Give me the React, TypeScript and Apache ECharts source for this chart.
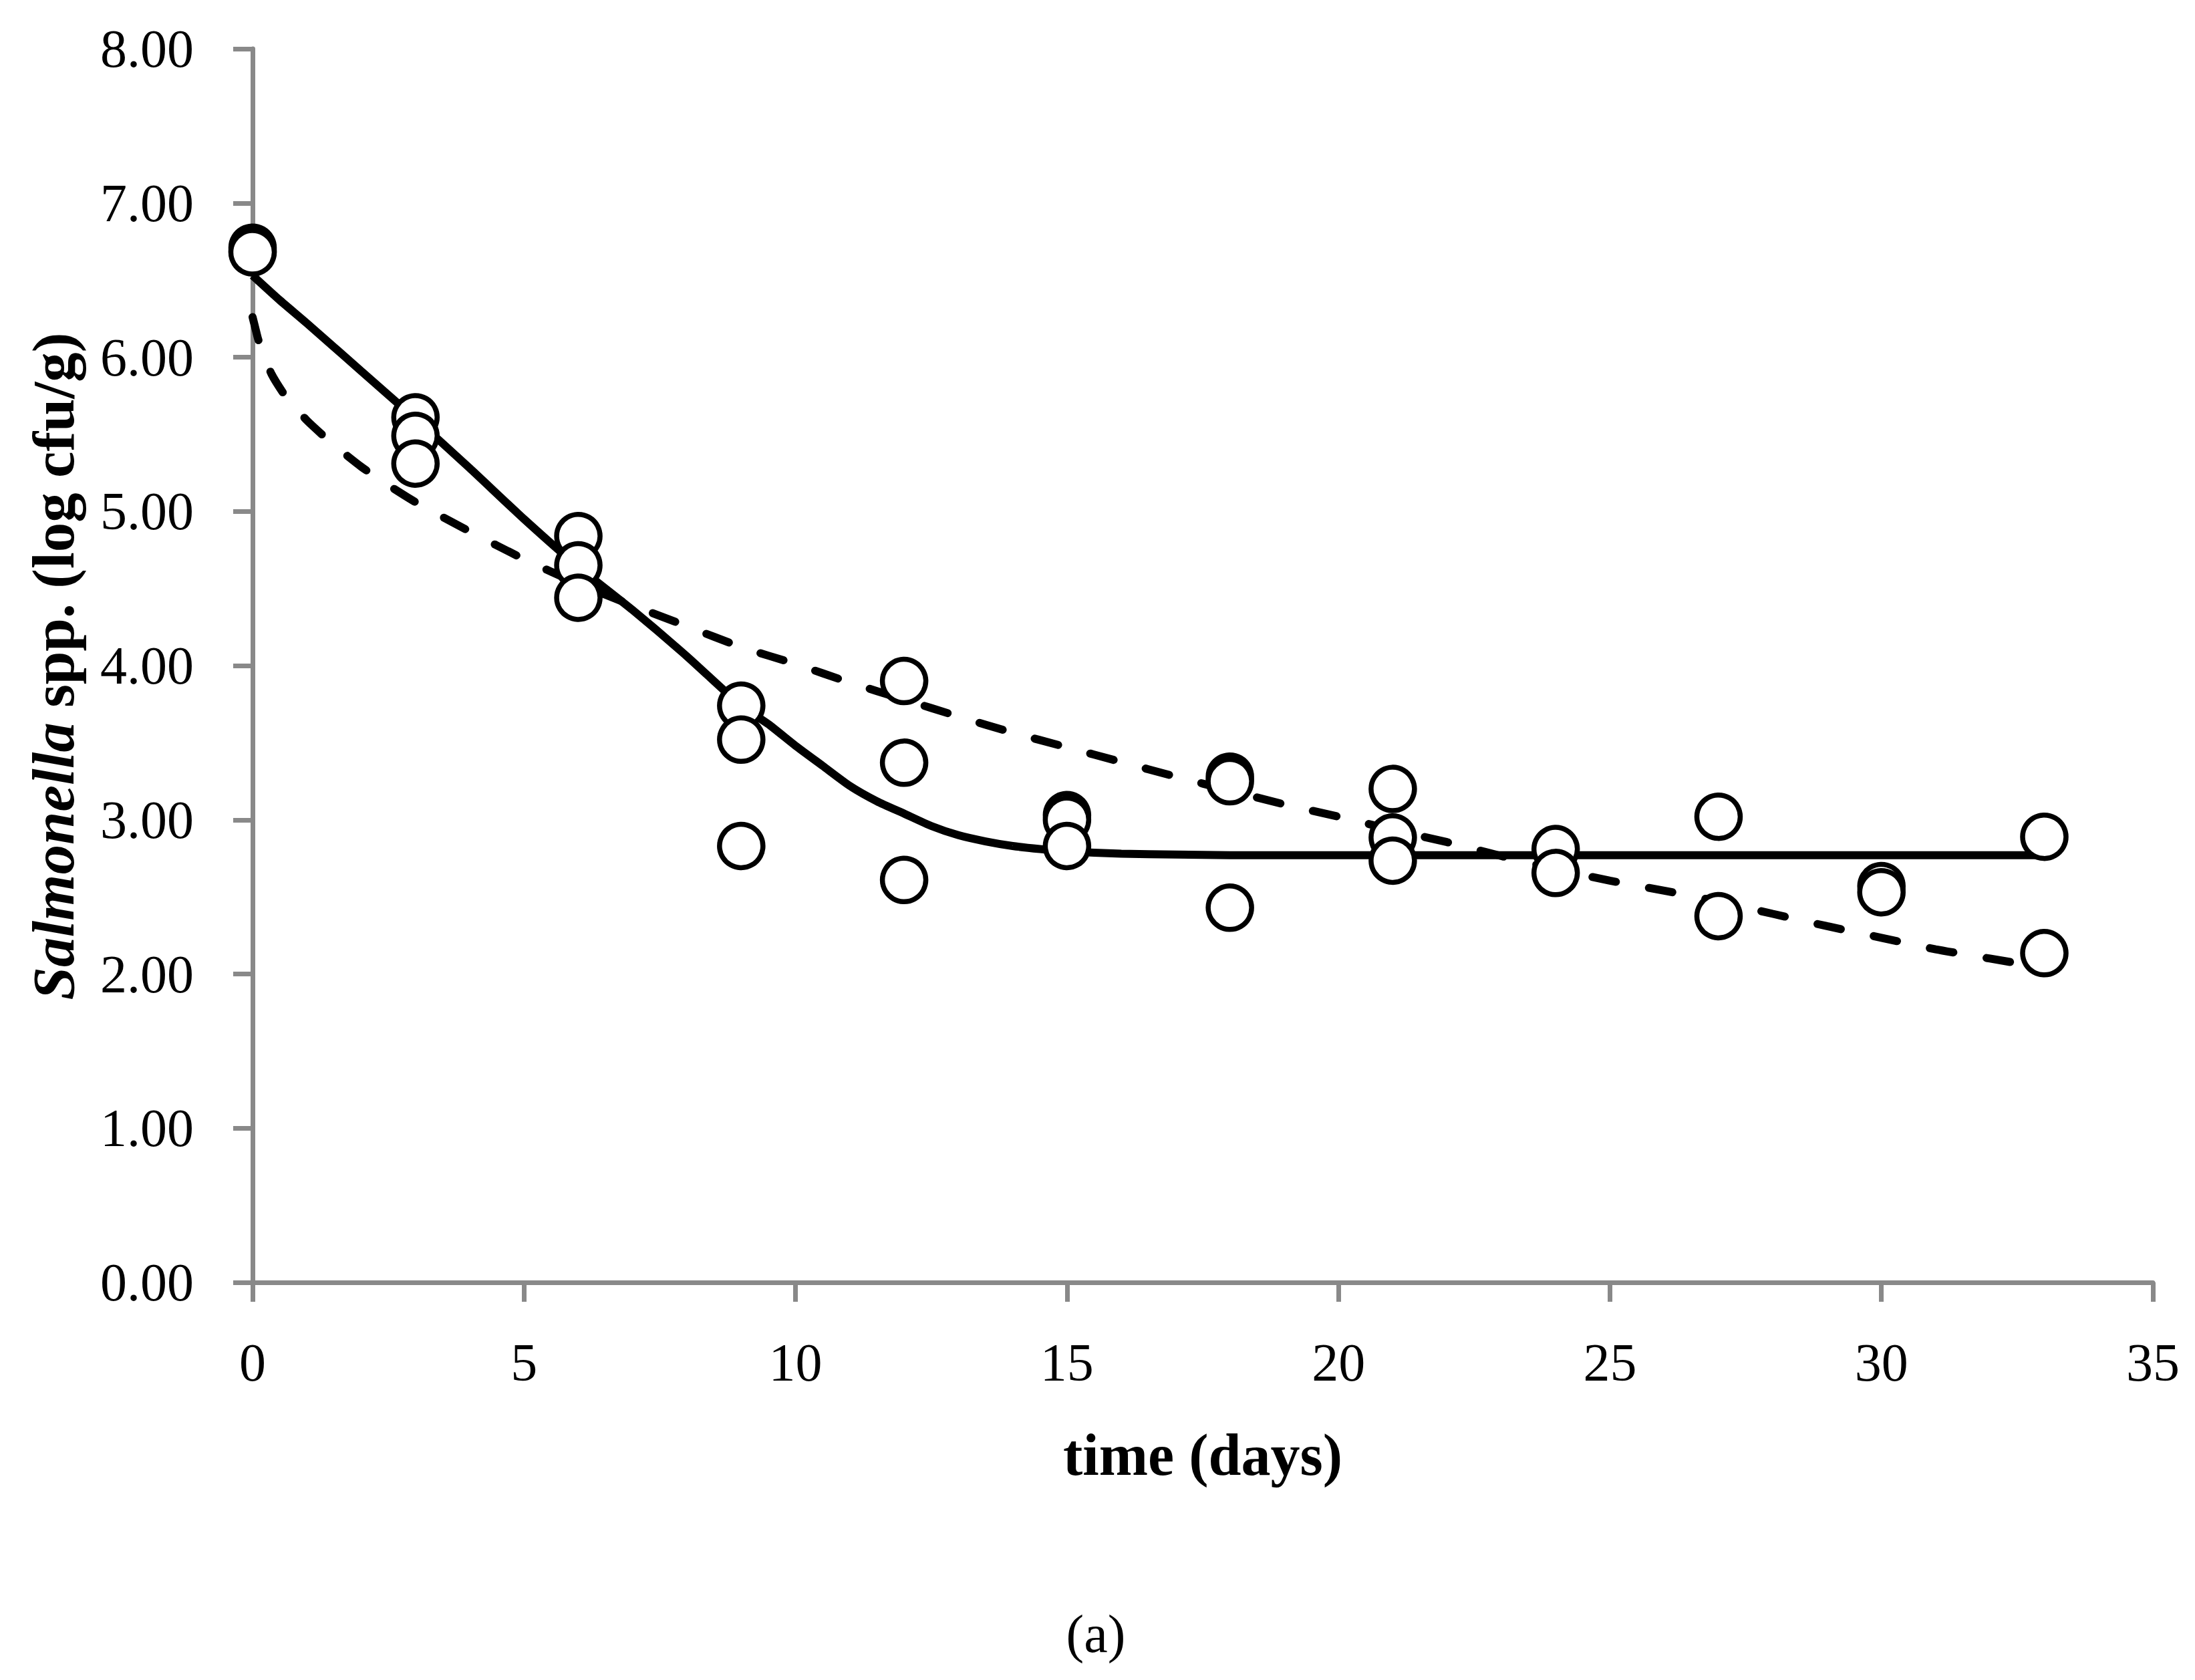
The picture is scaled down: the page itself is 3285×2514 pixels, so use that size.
import React, { useEffect, useRef } from "react";
import * as echarts from "echarts";

// Observed data (time in days, log cfu/g)
const obsTime = [0, 0, 0, 3, 3, 3, 6, 6, 6, 9, 9, 9, 12, 12, 12, 15, 15, 15, 18, 18, 18, 21, 21, 21, 24, 24, 27, 27, 30, 30, 33, 33];
const obsValue = [6.71, 6.69, 6.68, 5.61, 5.49, 5.31, 4.84, 4.65, 4.44, 3.74, 3.52, 2.83, 3.9, 3.37, 2.61, 3.03, 3.0, 2.83, 3.28, 3.25, 2.43, 3.2, 2.885, 2.735, 2.81, 2.655, 3.02, 2.375, 2.57, 2.53, 2.89, 2.135];

// Solid fitted curve
const solidTime = [0, 0.5, 1, 2, 3, 4, 5, 6, 7, 8, 9, 9.5, 10, 10.5, 11, 11.5, 12, 12.5, 13, 13.5, 14, 14.5, 15, 16, 17, 18, 20, 22, 24, 26, 28, 30, 33];
const solidValue = [6.53, 6.37, 6.22, 5.91, 5.6, 5.28, 4.95, 4.64, 4.36, 4.06, 3.74, 3.62, 3.48, 3.35, 3.22, 3.12, 3.04, 2.96, 2.9, 2.86, 2.83, 2.81, 2.795, 2.78, 2.775, 2.77, 2.77, 2.77, 2.77, 2.77, 2.77, 2.77, 2.77];

// Dashed fitted curve
const dashTime = [0, 0.05, 0.1, 0.2, 0.35, 0.6, 1, 1.5, 2, 2.5, 3, 4, 5, 6, 7, 8, 9, 10, 11, 12, 13, 14, 15, 16, 17, 18, 19, 20, 21, 22, 23, 24, 25, 26, 27, 28, 29, 30, 31, 32, 33];
const dashValue = [6.26, 6.19, 6.12, 6.02, 5.89, 5.75, 5.59, 5.43, 5.29, 5.17, 5.06, 4.87, 4.69, 4.53, 4.39, 4.255, 4.12, 4.01, 3.89, 3.78, 3.67, 3.565, 3.47, 3.375, 3.28, 3.19, 3.1, 3.02, 2.935, 2.855, 2.765, 2.68, 2.605, 2.54, 2.47, 2.39, 2.31, 2.235, 2.16, 2.1, 2.04];

const xTicks = { min: 0, max: 35, interval: 5 };
const yTicks = { min: 0, max: 8, interval: 1 };

const FONT = "Liberation Serif";
const AXIS_COLOR = "#898989";

export default function App() {
  const ref = useRef<HTMLDivElement>(null);

  useEffect(() => {
    if (!ref.current) return;
    const chart = echarts.init(ref.current, undefined, { renderer: "svg" });
    const pair = (xs: number[], ys: number[]) => xs.map((x, i) => [x, ys[i]]);

    const option: any = {
      animation: false,
      backgroundColor: "#ffffff",
      grid: { left: 378, right: 63, top: 73, bottom: 595, containLabel: false },
      xAxis: {
        type: "value",
        min: xTicks.min,
        max: xTicks.max,
        interval: xTicks.interval,
        name: "time (days)",
        nameLocation: "middle",
        nameGap: 214,
        nameTextStyle: { fontFamily: FONT, fontSize: 88, fontWeight: "bold", color: "#000" },
        axisLine: { show: true, lineStyle: { color: AXIS_COLOR, width: 7 } },
        axisTick: { show: true, length: 29, lineStyle: { color: AXIS_COLOR, width: 7 } },
        axisLabel: { fontFamily: FONT, fontSize: 80, color: "#000", margin: 80 },
        splitLine: { show: false },
      },
      yAxis: {
        type: "value",
        min: yTicks.min,
        max: yTicks.max,
        interval: yTicks.interval,
        axisLine: { show: true, lineStyle: { color: AXIS_COLOR, width: 7 } },
        axisTick: { show: true, length: 29, lineStyle: { color: AXIS_COLOR, width: 7 } },
        axisLabel: {
          fontFamily: FONT,
          fontSize: 80,
          color: "#000",
          margin: 88,
          formatter: (v: number) => v.toFixed(2),
        },
        splitLine: { show: false },
      },
      graphic: [
        {
          type: "text",
          x: 80,
          y: 997,
          rotation: Math.PI / 2,
          style: {
            text: "{i|Salmonella}{b| spp. (log cfu/g)}",
            align: "center",
            verticalAlign: "middle",
            fill: "#000",
            rich: {
              i: { fontFamily: FONT, fontSize: 89, fontStyle: "italic", fontWeight: "bold", fill: "#000" },
              b: { fontFamily: FONT, fontSize: 89, fontWeight: "bold", fill: "#000" },
            },
          },
        },
        {
          type: "text",
          x: 1640,
          y: 2445,
          style: {
            text: "(a)",
            align: "center",
            verticalAlign: "middle",
            fontFamily: FONT,
            fontSize: 80,
            fill: "#000",
          },
        },
      ],
      series: [
        {
          type: "line",
          data: pair(solidTime, solidValue),
          showSymbol: false,
          smooth: 0.2,
          lineStyle: { color: "#000", width: 12, type: "solid" },
          z: 2,
        },
        {
          type: "line",
          data: pair(dashTime, dashValue),
          showSymbol: false,
          smooth: 0.2,
          lineStyle: { color: "#000", width: 12, type: [36, 50], cap: "round" },
          z: 2,
        },
        {
          type: "scatter",
          data: pair(obsTime, obsValue),
          symbol: "circle",
          symbolSize: 65,
          itemStyle: { color: "#ffffff", borderColor: "#000000", borderWidth: 7.5, opacity: 1 },
          z: 5,
        },
      ],
    };
    chart.setOption(option);
    return () => chart.dispose();
  }, []);

  return (
    <div
      ref={ref}
      style={{ position: "absolute", left: 0, top: 0, width: 3285, height: 2514, background: "#fff" }}
    />
  );
}
